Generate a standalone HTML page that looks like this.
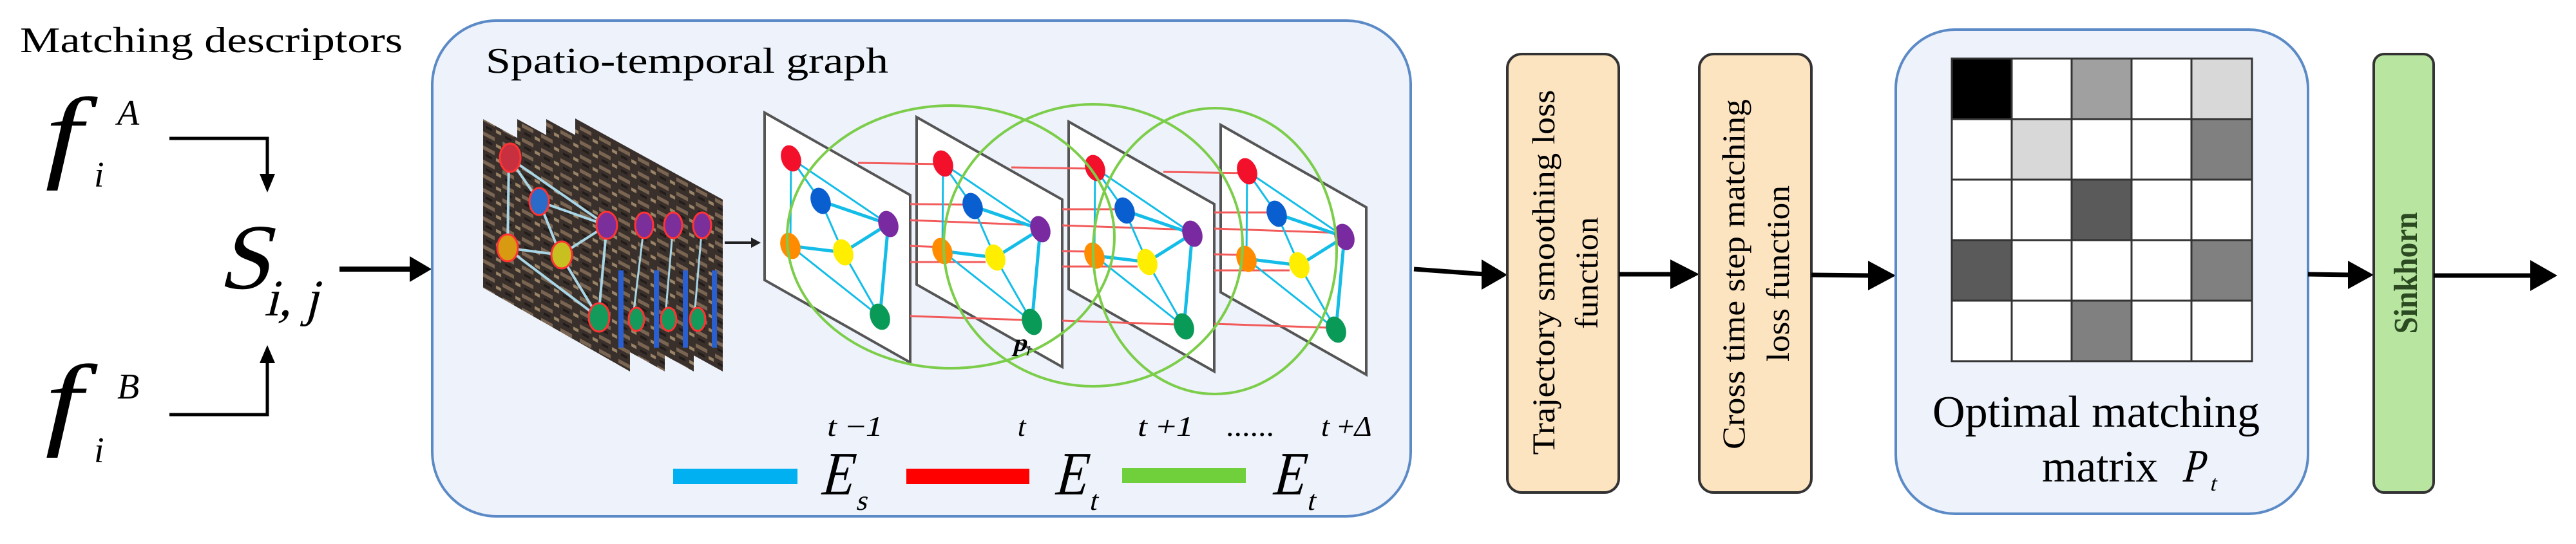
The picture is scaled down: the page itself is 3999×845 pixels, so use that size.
<!DOCTYPE html>
<html><head><meta charset="utf-8"><style>
html,body{margin:0;padding:0;background:#fff;}
svg{display:block;}
text{font-family:"Liberation Serif","DejaVu Serif",serif;}
</style></head><body>
<svg width="3999" height="845" viewBox="0 0 3999 845" xmlns="http://www.w3.org/2000/svg">
<defs>
<pattern id="tex" width="30" height="22" patternUnits="userSpaceOnUse" patternTransform="skewY(28)">
<rect width="30" height="22" fill="#3a302b"/>
<rect x="0" y="3" width="18" height="6" fill="#7a6552"/>
<rect x="20" y="12" width="8" height="5" fill="#9a8468"/>
<rect x="4" y="14" width="10" height="4" fill="#221c1a"/>
</pattern>
</defs>

<!-- Left section -->
<text x="31" y="81" font-size="56" textLength="594" lengthAdjust="spacingAndGlyphs">Matching descriptors</text>
<text transform="translate(70,262) scale(1.3,1)" font-size="160" font-style="italic">f</text>
<text x="146" y="290" font-size="56" font-style="italic">i</text>
<text x="182" y="194" font-size="56" font-style="italic">A</text>
<text transform="translate(70,677) scale(1.3,1)" font-size="160" font-style="italic">f</text>
<text x="146" y="718" font-size="56" font-style="italic">i</text>
<text x="182" y="619" font-size="56" font-style="italic">B</text>
<text transform="translate(338,448) skewX(-14)" font-size="145">S</text>
<text transform="translate(410,490) skewX(-14)" font-size="80">i, j</text>

<g stroke="#000" stroke-width="5" fill="none">
<polyline points="263,215 415,215 415,272"/>
<polyline points="263,644 415,644 415,562"/>
<line x1="527" y1="418" x2="640" y2="418" stroke-width="8"/>
</g>
<polygon points="403,270 427,270 415,299" fill="#000"/>
<polygon points="403,564 427,564 415,536" fill="#000"/>
<polygon points="636,398 670,418 636,438" fill="#000"/>

<!-- Big panel -->
<rect x="671" y="32" width="1519" height="770" rx="100" ry="100" fill="#edf2fb" stroke="#5b8ac6" stroke-width="4"/>
<text x="754" y="113" font-size="56" textLength="625" lengthAdjust="spacingAndGlyphs">Spatio-temporal graph</text>

<!-- photo frames -->
<g>
<polygon points="893,184 1122,310 1122,577 893,450" fill="url(#tex)"/>
<polygon points="848,185 1077,311 1077,577 848,450" fill="url(#tex)"/>
<polygon points="803,185 1032,311 1032,577 803,450" fill="url(#tex)"/>
<polygon points="750,185 978,311 978,577 750,447" fill="url(#tex)"/>
<g stroke="#a9d6e6" stroke-width="3">
<line x1="1090" y1="350" x2="1078" y2="490"/><line x1="1045" y1="350" x2="1033" y2="490"/><line x1="1000" y1="350" x2="983" y2="490"/>
</g>
<g fill="#2a5fd0"><rect x="1105" y="420" width="8" height="120"/><rect x="1060" y="420" width="8" height="120"/><rect x="1015" y="420" width="8" height="120"/><rect x="960" y="420" width="8" height="120"/></g>
<g stroke="#f33" stroke-width="3">
<ellipse cx="1090" cy="350" rx="14" ry="20" fill="#7a2f9a"/>
<ellipse cx="1045" cy="350" rx="14" ry="20" fill="#7a2f9a"/>
<ellipse cx="1000" cy="350" rx="14" ry="20" fill="#7a2f9a"/>
<ellipse cx="1083" cy="496" rx="12" ry="18" fill="#149a5a"/>
<ellipse cx="1038" cy="496" rx="12" ry="18" fill="#149a5a"/>
<ellipse cx="988" cy="496" rx="12" ry="18" fill="#149a5a"/>
</g>
<g stroke="#a9d6e6" stroke-width="4">
<line x1="790" y1="245" x2="837" y2="313"/><line x1="790" y1="245" x2="942" y2="350"/><line x1="790" y1="245" x2="788" y2="385"/>
<line x1="837" y1="313" x2="942" y2="350"/><line x1="837" y1="313" x2="870" y2="396"/><line x1="786" y1="385" x2="870" y2="396"/>
<line x1="870" y1="396" x2="942" y2="350"/><line x1="786" y1="385" x2="929" y2="493"/><line x1="870" y1="396" x2="929" y2="493"/><line x1="942" y1="350" x2="929" y2="493"/>
</g>
<g stroke="#f33" stroke-width="3">
<ellipse cx="792" cy="245" rx="16" ry="22" fill="#c83040"/>
<ellipse cx="837" cy="313" rx="15" ry="21" fill="#2a6ac8"/>
<ellipse cx="942" cy="350" rx="16" ry="21" fill="#7a2f9a"/>
<ellipse cx="788" cy="385" rx="16" ry="21" fill="#d89a10"/>
<ellipse cx="872" cy="396" rx="16" ry="21" fill="#c8c020"/>
<ellipse cx="930" cy="493" rx="16" ry="22" fill="#149a5a"/>
</g>
</g>
<line x1="1125" y1="377" x2="1168" y2="377" stroke="#222" stroke-width="4"/>
<polygon points="1166,369 1181,377 1166,385" fill="#222"/>

<!-- planes -->
<g stroke="#555" stroke-width="4" fill="#fff">
<polygon points="1187,175 1413,303 1413,563 1187,435"/>
<polygon points="1423,182 1649,310 1649,570 1423,442"/>
<polygon points="1659,189 1885,317 1885,577 1659,449"/>
<polygon points="1895,194 2121,322 2121,582 1895,454"/>
</g>

<!-- red temporal lines -->
<g stroke="#f25a5a" stroke-width="3">
<line x1="1332" y1="253" x2="1464" y2="255"/><line x1="1413" y1="317" x2="1510" y2="318"/><line x1="1413" y1="342" x2="1615" y2="350"/><line x1="1413" y1="382" x2="1464" y2="384"/><line x1="1413" y1="407" x2="1530" y2="407"/><line x1="1413" y1="491" x2="1590" y2="497"/>
<line x1="1570" y1="260" x2="1700" y2="262"/><line x1="1649" y1="325" x2="1746" y2="325"/><line x1="1649" y1="350" x2="1851" y2="357"/><line x1="1649" y1="390" x2="1700" y2="391"/><line x1="1649" y1="414" x2="1766" y2="414"/><line x1="1649" y1="498" x2="1826" y2="504"/>
<line x1="1806" y1="267" x2="1936" y2="269"/><line x1="1885" y1="330" x2="1982" y2="330"/><line x1="1885" y1="355" x2="2087" y2="362"/><line x1="1885" y1="395" x2="1936" y2="396"/><line x1="1885" y1="420" x2="2002" y2="420"/><line x1="1885" y1="503" x2="2062" y2="509"/>
</g>

<!-- graphs in planes -->
<g id="g1">
<g stroke="#14bde8" stroke-width="3">
<line x1="1228" y1="246" x2="1274" y2="312"/><line x1="1228" y1="246" x2="1379" y2="348"/><line x1="1228" y1="246" x2="1227" y2="382"/>
<line x1="1274" y1="312" x2="1309" y2="392"/><line x1="1227" y1="382" x2="1366" y2="492"/><line x1="1309" y1="392" x2="1366" y2="492"/>
</g>
<g stroke="#14bde8" stroke-width="5">
<line x1="1274" y1="312" x2="1379" y2="348"/><line x1="1227" y1="382" x2="1309" y2="392"/><line x1="1309" y1="392" x2="1379" y2="348"/><line x1="1379" y1="348" x2="1366" y2="492"/>
</g>
<ellipse cx="1228" cy="246" rx="15" ry="21" fill="#f2102a" transform="rotate(-20 1228 246)"/>
<ellipse cx="1274" cy="312" rx="15" ry="21" fill="#0a5fd0" transform="rotate(-20 1274 312)"/>
<ellipse cx="1379" cy="348" rx="15" ry="21" fill="#7a2aa0" transform="rotate(-20 1379 348)"/>
<ellipse cx="1227" cy="382" rx="15" ry="21" fill="#ff8c00" transform="rotate(-20 1227 382)"/>
<ellipse cx="1309" cy="392" rx="15" ry="21" fill="#ffee00" transform="rotate(-20 1309 392)"/>
<ellipse cx="1366" cy="492" rx="15" ry="21" fill="#0a9a58" transform="rotate(-20 1366 492)"/>
</g>
<use href="#g1" transform="translate(236,8)"/>
<use href="#g1" transform="translate(472,15)"/>
<use href="#g1" transform="translate(708,20)"/>

<!-- green ellipses -->
<g fill="none" stroke="#7ccd4a" stroke-width="4">
<ellipse cx="1476" cy="368" rx="254" ry="204"/>
<ellipse cx="1697" cy="381" rx="232" ry="219"/>
<ellipse cx="1886" cy="390" rx="189" ry="222"/>
</g>
<text transform="translate(1572,545) skewX(-14)" font-size="38" font-weight="bold">p</text>
<text transform="translate(1592,552) skewX(-14)" font-size="22">i</text>

<!-- time labels -->
<g font-size="44">
<text transform="translate(1282,677) skewX(-12)" textLength="86" lengthAdjust="spacingAndGlyphs">t −1</text>
<text transform="translate(1578,677) skewX(-12)">t</text>
<text transform="translate(1764,677) skewX(-12)" textLength="86" lengthAdjust="spacingAndGlyphs">t +1</text>
<text x="1903" y="677" textLength="75" lengthAdjust="spacingAndGlyphs">......</text>
<text transform="translate(2049,677) skewX(-12)" textLength="80" lengthAdjust="spacingAndGlyphs">t +Δ</text>
</g>

<!-- legend -->
<rect x="1045" y="728" width="193" height="24" fill="#00b0f0"/>
<rect x="1407" y="728" width="191" height="24" fill="#ff0000"/>
<rect x="1742" y="727" width="192" height="23" fill="#6fd03c"/>
<g>
<text transform="translate(1272,768) skewX(-14) scale(0.85,1)" font-size="96">E</text>
<text transform="translate(1328,792) skewX(-14)" font-size="44">s</text>
<text transform="translate(1635,768) skewX(-14) scale(0.85,1)" font-size="96">E</text>
<text transform="translate(1690,792) skewX(-14)" font-size="44">t</text>
<text transform="translate(1973,768) skewX(-14) scale(0.85,1)" font-size="96">E</text>
<text transform="translate(2028,792) skewX(-14)" font-size="44">t</text>
</g>

<!-- arrow to box1 -->
<line x1="2195" y1="418" x2="2305" y2="426" stroke="#000" stroke-width="7"/>
<polygon points="2300,403 2340,427 2300,450" fill="#000"/>

<!-- box1 -->
<rect x="2340" y="84" width="173" height="681" rx="22" fill="#fde4c0" stroke="#333" stroke-width="4"/>
<text transform="translate(2413,423) rotate(-90)" font-size="50" text-anchor="middle" textLength="567" lengthAdjust="spacingAndGlyphs">Trajectory  smoothing  loss</text>
<text transform="translate(2480,424) rotate(-90)" font-size="50" text-anchor="middle" textLength="174" lengthAdjust="spacingAndGlyphs">function</text>

<line x1="2513" y1="426" x2="2600" y2="426" stroke="#000" stroke-width="7"/>
<polygon points="2593,403 2638,426 2593,449" fill="#000"/>

<!-- box2 -->
<rect x="2638" y="84" width="174" height="681" rx="22" fill="#fde4c0" stroke="#333" stroke-width="4"/>
<text transform="translate(2708,426) rotate(-90)" font-size="50" text-anchor="middle" textLength="544" lengthAdjust="spacingAndGlyphs">Cross time step matching</text>
<text transform="translate(2777,425) rotate(-90)" font-size="50" text-anchor="middle" textLength="274" lengthAdjust="spacingAndGlyphs">loss function</text>

<line x1="2812" y1="427" x2="2905" y2="428" stroke="#000" stroke-width="7"/>
<polygon points="2900,405 2943,428 2900,451" fill="#000"/>

<!-- panel2 -->
<rect x="2943" y="46" width="640" height="752" rx="92" ry="92" fill="#edf2fb" stroke="#5b8ac6" stroke-width="4"/>
<g stroke="#333" stroke-width="3">
<rect x="3030" y="91" width="93" height="94" fill="#000"/>
<rect x="3123" y="91" width="93" height="94" fill="#fff"/>
<rect x="3216" y="91" width="93" height="94" fill="#a0a0a0"/>
<rect x="3309" y="91" width="93" height="94" fill="#fff"/>
<rect x="3402" y="91" width="94" height="94" fill="#d8d8d8"/>
<rect x="3030" y="185" width="93" height="94" fill="#fff"/>
<rect x="3123" y="185" width="93" height="94" fill="#d8d8d8"/>
<rect x="3216" y="185" width="93" height="94" fill="#fff"/>
<rect x="3309" y="185" width="93" height="94" fill="#fff"/>
<rect x="3402" y="185" width="94" height="94" fill="#808080"/>
<rect x="3030" y="279" width="93" height="94" fill="#fff"/>
<rect x="3123" y="279" width="93" height="94" fill="#fff"/>
<rect x="3216" y="279" width="93" height="94" fill="#5a5a5a"/>
<rect x="3309" y="279" width="93" height="94" fill="#fff"/>
<rect x="3402" y="279" width="94" height="94" fill="#fff"/>
<rect x="3030" y="373" width="93" height="94" fill="#5a5a5a"/>
<rect x="3123" y="373" width="93" height="94" fill="#fff"/>
<rect x="3216" y="373" width="93" height="94" fill="#fff"/>
<rect x="3309" y="373" width="93" height="94" fill="#fff"/>
<rect x="3402" y="373" width="94" height="94" fill="#808080"/>
<rect x="3030" y="467" width="93" height="94" fill="#fff"/>
<rect x="3123" y="467" width="93" height="94" fill="#fff"/>
<rect x="3216" y="467" width="93" height="94" fill="#808080"/>
<rect x="3309" y="467" width="93" height="94" fill="#fff"/>
<rect x="3402" y="467" width="94" height="94" fill="#fff"/>
</g>
<text x="3000" y="663" font-size="70" textLength="508" lengthAdjust="spacingAndGlyphs">Optimal matching</text>
<text x="3170" y="748" font-size="70" textLength="180" lengthAdjust="spacingAndGlyphs">matrix</text>
<text transform="translate(3386,748) skewX(-14) scale(0.85,1)" font-size="72">P</text>
<text transform="translate(3430,762) skewX(-14)" font-size="34">t</text>

<line x1="3583" y1="426" x2="3650" y2="427" stroke="#000" stroke-width="7"/>
<polygon points="3645,405 3685,427 3645,449" fill="#000"/>

<!-- Sinkhorn -->
<rect x="3685" y="84" width="93" height="681" rx="16" fill="#b8e6a0" stroke="#333" stroke-width="4"/>
<text transform="translate(3752,424) rotate(-90)" font-size="52" font-weight="bold" fill="#2c4a22" text-anchor="middle" textLength="189" lengthAdjust="spacingAndGlyphs">Sinkhorn</text>

<line x1="3778" y1="428" x2="3935" y2="428" stroke="#000" stroke-width="7"/>
<polygon points="3928,404 3970,428 3928,452" fill="#000"/>
</svg>
</body></html>
